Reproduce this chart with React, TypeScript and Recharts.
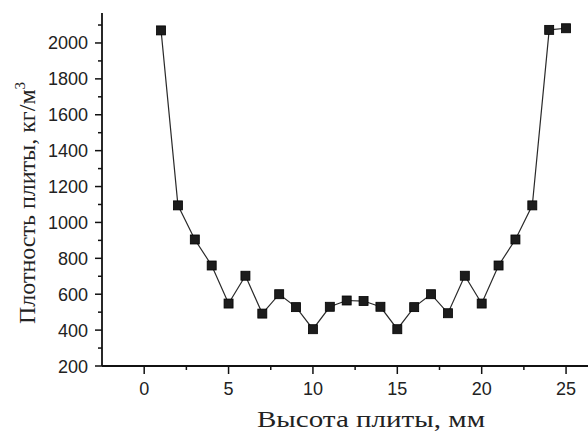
import React from 'react';
import { LineChart, Line, XAxis, YAxis } from 'recharts';

const heights = [1, 2, 3, 4, 5, 6, 7, 8, 9, 10, 11, 12, 13, 14, 15, 16, 17, 18, 19, 20, 21, 22, 23, 24, 25];
const densities = [2070, 1095, 905, 760, 548, 703, 492, 600, 528, 405, 530, 565, 562, 530, 405, 528, 600, 494, 703, 548, 760, 905, 1095, 2073, 2082];
const xTicks = [0, 2.5, 5, 7.5, 10, 12.5, 15, 17.5, 20, 22.5, 25];
const yTicks = [200, 300, 400, 500, 600, 700, 800, 900, 1000, 1100, 1200, 1300, 1400, 1500, 1600, 1700, 1800, 1900, 2000, 2100];
const xLabel = 'Высота плиты, мм';
const yLabel = 'Плотность плиты, кг/м';

const data = heights.map((h, i) => ({ h, d: densities[i] }));

const XTick = (props: any) => {
  const { x, y, payload } = props;
  const v = payload.value;
  const major = v % 5 === 0;
  return (
    <g>
      <line x1={x} x2={x} y1={y} y2={y + (major ? 8 : 4)} stroke="#111" strokeWidth={1.5} />
      {major && (
        <text x={x} y={y + 29} textAnchor="middle" fontFamily="Liberation Sans, Arial, sans-serif" fontSize={18} fill="#222">
          {v}
        </text>
      )}
    </g>
  );
};

const YTick = (props: any) => {
  const { x, y, payload } = props;
  const v = payload.value;
  const major = v % 200 === 0;
  return (
    <g>
      <line x1={x} x2={x - (major ? 7 : 4)} y1={y} y2={y} stroke="#111" strokeWidth={1.5} />
      {major && (
        <text x={x - 14} y={y + 6.5} textAnchor="end" fontFamily="Liberation Sans, Arial, sans-serif" fontSize={18} fill="#222">
          {v}
        </text>
      )}
    </g>
  );
};

const SquareDot = (props: any) => {
  const { cx, cy, index } = props;
  if (cx == null || cy == null) return null;
  return <rect key={index} x={cx - 4.5} y={cy - 4.5} width={9} height={9} fill="#1c1c1c" stroke="#000" strokeWidth={0.8} />;
};

export default function App() {
  return (
    <div style={{ position: 'absolute', left: 0, top: 0, width: 588, height: 432, background: '#fff' }}>
      <LineChart width={588} height={432} data={data} margin={{ top: 13, right: 0, bottom: 0, left: 0 }}>
        <XAxis
          dataKey="h"
          type="number"
          domain={[-2.5, 26.3]}
          ticks={xTicks}
          tickLine={false}
          tickSize={0}
          tickMargin={0}
          tick={<XTick />}
          height={66}
          axisLine={{ stroke: '#111', strokeWidth: 1.8 }}
          interval={0}
          allowDataOverflow
        />
        <YAxis
          type="number"
          domain={[200, 2167]}
          ticks={yTicks}
          tickLine={false}
          tickSize={0}
          tickMargin={0}
          tick={<YTick />}
          width={102}
          axisLine={{ stroke: '#111', strokeWidth: 1.8 }}
          interval={0}
          allowDataOverflow
        />
        <Line
          type="linear"
          dataKey="d"
          stroke="#2a2a2a"
          strokeWidth={1.2}
          dot={<SquareDot />}
          isAnimationActive={false}
        />
        <text
          x={371}
          y={427}
          textAnchor="middle"
          textLength={228}
          lengthAdjust="spacingAndGlyphs"
          fontFamily="Liberation Serif, Times New Roman, serif"
          fontSize={24}
          fill="#222"
        >
          {xLabel}
        </text>
        <text
          transform="translate(35,203) rotate(-90)"
          textAnchor="middle"
          fontFamily="Liberation Serif, Times New Roman, serif"
          fontSize={24}
          fill="#222"
        >
          {yLabel}
          <tspan fontSize={15} dy={-10}>3</tspan>
        </text>
      </LineChart>
    </div>
  );
}
